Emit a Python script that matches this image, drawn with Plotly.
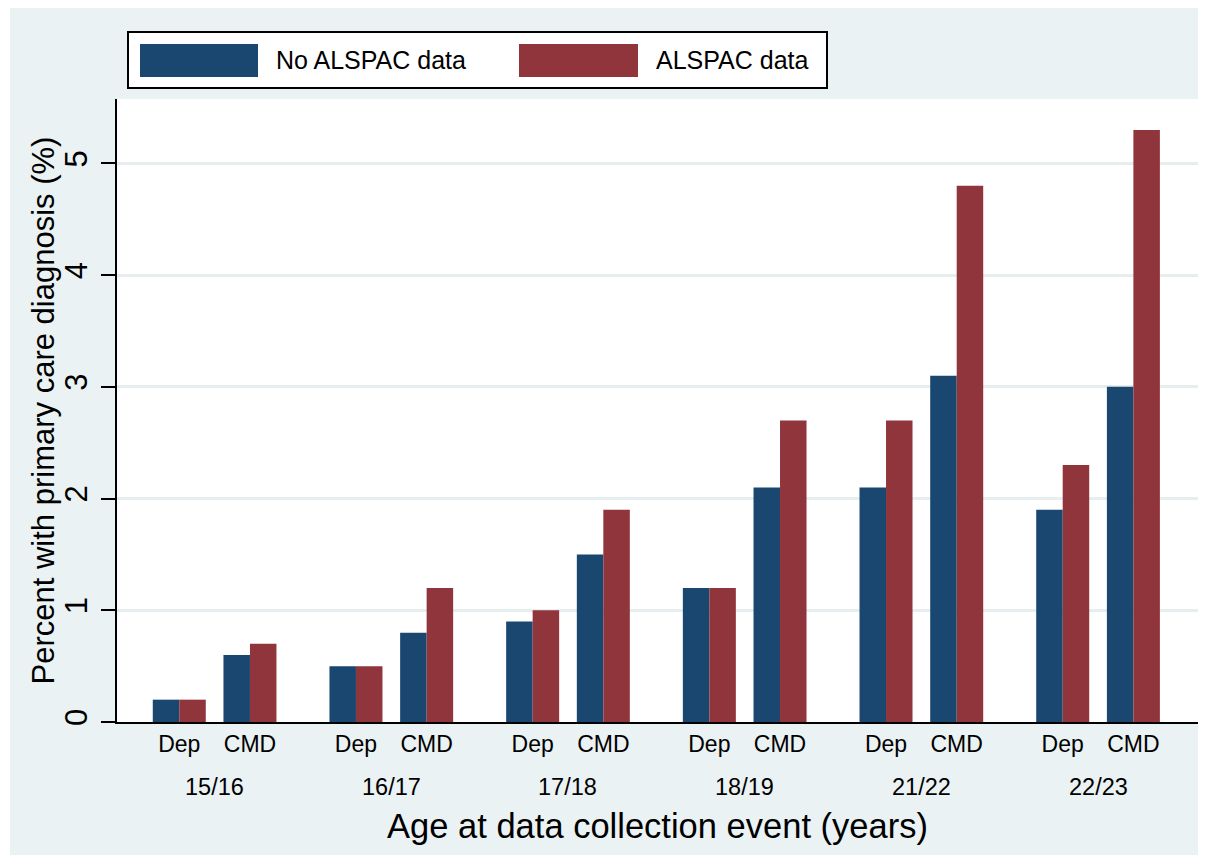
import plotly.graph_objects as go

# ---- data ----
groups = ["15/16", "16/17", "17/18", "18/19", "21/22", "22/23"]
measures = ["Dep", "CMD"]
no_alspac_dep = [0.2, 0.5, 0.9, 1.2, 2.1, 1.9]
no_alspac_cmd = [0.6, 0.8, 1.5, 2.1, 3.1, 3.0]
alspac_dep = [0.2, 0.5, 1.0, 1.2, 2.7, 2.3]
alspac_cmd = [0.7, 1.2, 1.9, 2.7, 4.8, 5.3]
y_ticks = [0, 1, 2, 3, 4, 5]

# ---- styling / layout constants ----
BLUE = "#1A476F"
RED = "#90353B"
BG = "#EAF2F3"
GRID = "#E6EEF0"
FONT = "Liberation Sans, Arial, sans-serif"
OFF = 8                      # page body margin
W, H = 1206 - OFF, 855 - OFF
ML, MR, MT, MB = 109, 8, 91, 133
PW, PH = W - ML - MR, H - MT - MB

GROUP_STEP = 6.667   # in bar widths
INNER_STEP = 2.667

def px_x(px):
    return (px - OFF - ML) / PW

def px_y(py):
    return (H - MB - (py - OFF)) / PH

xs, ys_no, ys_al, tick_pos, tick_txt, group_pos = [], [], [], [], [], []
for g, grp in enumerate(groups):
    vals_no = [no_alspac_dep[g], no_alspac_cmd[g]]
    vals_al = [alspac_dep[g], alspac_cmd[g]]
    for m, meas in enumerate(measures):
        x = g * GROUP_STEP + m * INNER_STEP
        xs.append(x)
        ys_no.append(vals_no[m])
        ys_al.append(vals_al[m])
        tick_pos.append(x)
        tick_txt.append(meas)
    group_pos.append(g * GROUP_STEP + INNER_STEP / 2)

fig = go.Figure()
fig.add_trace(go.Bar(x=xs, y=ys_no, name="No ALSPAC data", width=1, offset=-1,
                     marker=dict(color=BLUE, line=dict(width=0)), showlegend=False))
fig.add_trace(go.Bar(x=xs, y=ys_al, name="ALSPAC data", width=1, offset=0,
                     marker=dict(color=RED, line=dict(width=0)), showlegend=False))

shapes = [
    # outer graph region
    dict(type="rect", xref="paper", yref="paper", layer="below",
         x0=px_x(10), x1=px_x(1205), y0=px_y(870), y1=px_y(7),
         fillcolor=BG, line=dict(width=0)),
    # plot region
    dict(type="rect", xref="paper", yref="paper", layer="below",
         x0=0, x1=1, y0=0, y1=1, fillcolor="white", line=dict(width=0)),
    # legend box
    dict(type="rect", xref="paper", yref="paper",
         x0=px_x(128), x1=px_x(827), y0=px_y(88), y1=px_y(32),
         fillcolor="white", line=dict(color="black", width=2)),
    dict(type="rect", xref="paper", yref="paper",
         x0=px_x(140), x1=px_x(258), y0=px_y(77), y1=px_y(44),
         fillcolor=BLUE, line=dict(width=0)),
    dict(type="rect", xref="paper", yref="paper",
         x0=px_x(519), x1=px_x(638), y0=px_y(77), y1=px_y(44),
         fillcolor=RED, line=dict(width=0)),
]

annotations = [
    dict(text="No ALSPAC data", xref="paper", yref="paper", x=px_x(274), y=px_y(60),
         xanchor="left", yanchor="middle", showarrow=False,
         font=dict(family=FONT, size=25, color="black")),
    dict(text="ALSPAC data", xref="paper", yref="paper", x=px_x(654), y=px_y(60),
         xanchor="left", yanchor="middle", showarrow=False,
         font=dict(family=FONT, size=25, color="black")),
    # y-axis title
    dict(text="Percent with primary care diagnosis (%)", xref="paper", yref="paper",
         x=px_x(43), y=0.5, xanchor="center", yanchor="middle", textangle=-90,
         showarrow=False, font=dict(family=FONT, size=31, color="black")),
]
for gp, grp in zip(group_pos, groups):
    annotations.append(dict(text=grp, x=gp, xref="x", yref="paper", y=px_y(787),
                            xanchor="center", yanchor="middle", showarrow=False,
                            font=dict(family=FONT, size=23.5, color="black")))

fig.update_layout(
    width=W, height=H,
    margin=dict(l=ML, r=MR, t=MT, b=MB, autoexpand=False),
    paper_bgcolor="white", plot_bgcolor="rgba(0,0,0,0)",
    barmode="overlay",
    font=dict(family=FONT, color="black"),
    shapes=shapes, annotations=annotations,
    xaxis=dict(range=[-2.35, 38.44], tickvals=tick_pos, ticktext=tick_txt,
               showline=True, linecolor="black", linewidth=2, ticks="",
               showgrid=False, zeroline=False,
               tickfont=dict(family=FONT, size=23, color="black"),
               title=dict(text="Age at data collection event (years)",
                          font=dict(family=FONT, size=34.5, color="black"), standoff=58)),
    yaxis=dict(range=[0, 5.577], tickvals=y_ticks, tickangle=-90,
               showline=True, linecolor="black", linewidth=2,
               ticks="outside", ticklen=14, tickwidth=2, tickcolor="black",
               showgrid=True, gridcolor=GRID, gridwidth=3, zeroline=False,
               ticklabelstandoff=2,
               tickfont=dict(family=FONT, size=31, color="black")),
)

fig.write_html("out.html")
